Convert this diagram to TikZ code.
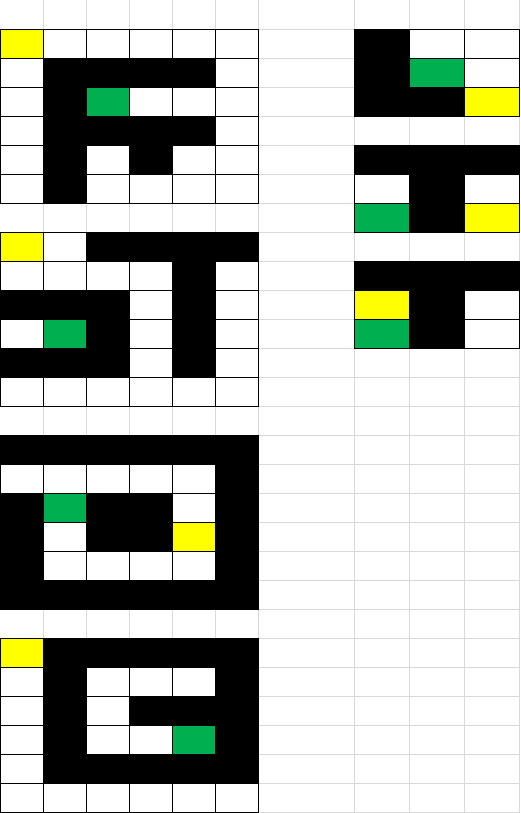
\documentclass[tikz,border=0pt]{standalone}
\definecolor{cK}{HTML}{000000}
\definecolor{cW}{HTML}{FFFFFF}
\definecolor{cY}{HTML}{FFFF00}
\definecolor{cG}{HTML}{00B050}
\definecolor{xlgrid}{HTML}{D9D9D9}
\def\xs{{0,43,86.5,129.5,172.5,215.5,258.5,354.5,409.5,464.5,519.5}}
\newcommand\prow[3]{%
  \foreach \cc [count=\n from 0] in {#3}{%
    \pgfmathsetmacro\xl{\xs[#1+\n]}%
    \pgfmathsetmacro\xr{\xs[#1+\n+1]}%
    \fill[c\cc] (\xl,29*#2+0.3) rectangle (\xr,29*#2+29.3);
  }}
\newcommand\pborder[4]{%
  \foreach \i in {#1,...,#2}{\pgfmathsetmacro\xx{\xs[\i]}\draw[cellborder] (\xx,29*#3+0.3) -- (\xx,29*#4+0.3);}%
  \pgfmathsetmacro\xla{\xs[#1]}\pgfmathsetmacro\xra{\xs[#2]}%
  \foreach \k in {#3,...,#4}{\draw[cellborder] (\xla,29*\k+0.3) -- (\xra,29*\k+0.3);}%
}
\begin{document}
\begin{tikzpicture}[x=1pt,y=-1pt,
  gridline/.style={draw=xlgrid,line width=1pt},
  cellborder/.style={draw=black,line width=1pt,line cap=rect}]
\useasboundingbox (0,0) rectangle (520,813);
\fill[white] (0,0) rectangle (520,813);
% spreadsheet gridlines
\foreach \i in {1,...,10}{\pgfmathsetmacro\xx{\xs[\i]}\draw[gridline] (\xx,0) -- (\xx,813);}
\foreach \k in {1,...,28}{\draw[gridline] (0,29*\k+0.3) -- (520,29*\k+0.3);}
% puzzle 1
\prow{0}{1}{Y,W,W,W,W,W}
\prow{0}{2}{W,K,K,K,K,W}
\prow{0}{3}{W,K,G,W,W,W}
\prow{0}{4}{W,K,K,K,K,W}
\prow{0}{5}{W,K,W,K,W,W}
\prow{0}{6}{W,K,W,W,W,W}
\pborder{0}{6}{1}{7}
% puzzle 2
\prow{0}{8}{Y,W,K,K,K,K}
\prow{0}{9}{W,W,W,W,K,W}
\prow{0}{10}{K,K,K,W,K,W}
\prow{0}{11}{W,G,K,W,K,W}
\prow{0}{12}{K,K,K,W,K,W}
\prow{0}{13}{W,W,W,W,W,W}
\pborder{0}{6}{8}{14}
% puzzle 3
\prow{0}{15}{K,K,K,K,K,K}
\prow{0}{16}{W,W,W,W,W,K}
\prow{0}{17}{K,G,K,K,W,K}
\prow{0}{18}{K,W,K,K,Y,K}
\prow{0}{19}{K,W,W,W,W,K}
\prow{0}{20}{K,K,K,K,K,K}
\pborder{0}{6}{15}{21}
% puzzle 4
\prow{0}{22}{Y,K,K,K,K,K}
\prow{0}{23}{W,K,W,W,W,K}
\prow{0}{24}{W,K,W,K,K,K}
\prow{0}{25}{W,K,W,W,G,K}
\prow{0}{26}{W,K,K,K,K,K}
\prow{0}{27}{W,W,W,W,W,W}
\pborder{0}{6}{22}{28}
% right puzzle 1
\prow{7}{1}{K,W,W}
\prow{7}{2}{K,G,W}
\prow{7}{3}{K,K,Y}
\pborder{7}{10}{1}{4}
% right puzzle 2
\prow{7}{5}{K,K,K}
\prow{7}{6}{W,K,W}
\prow{7}{7}{G,K,Y}
\pborder{7}{10}{5}{8}
% right puzzle 3
\prow{7}{9}{K,K,K}
\prow{7}{10}{Y,K,W}
\prow{7}{11}{G,K,W}
\pborder{7}{10}{9}{12}
\end{tikzpicture}
\end{document}
